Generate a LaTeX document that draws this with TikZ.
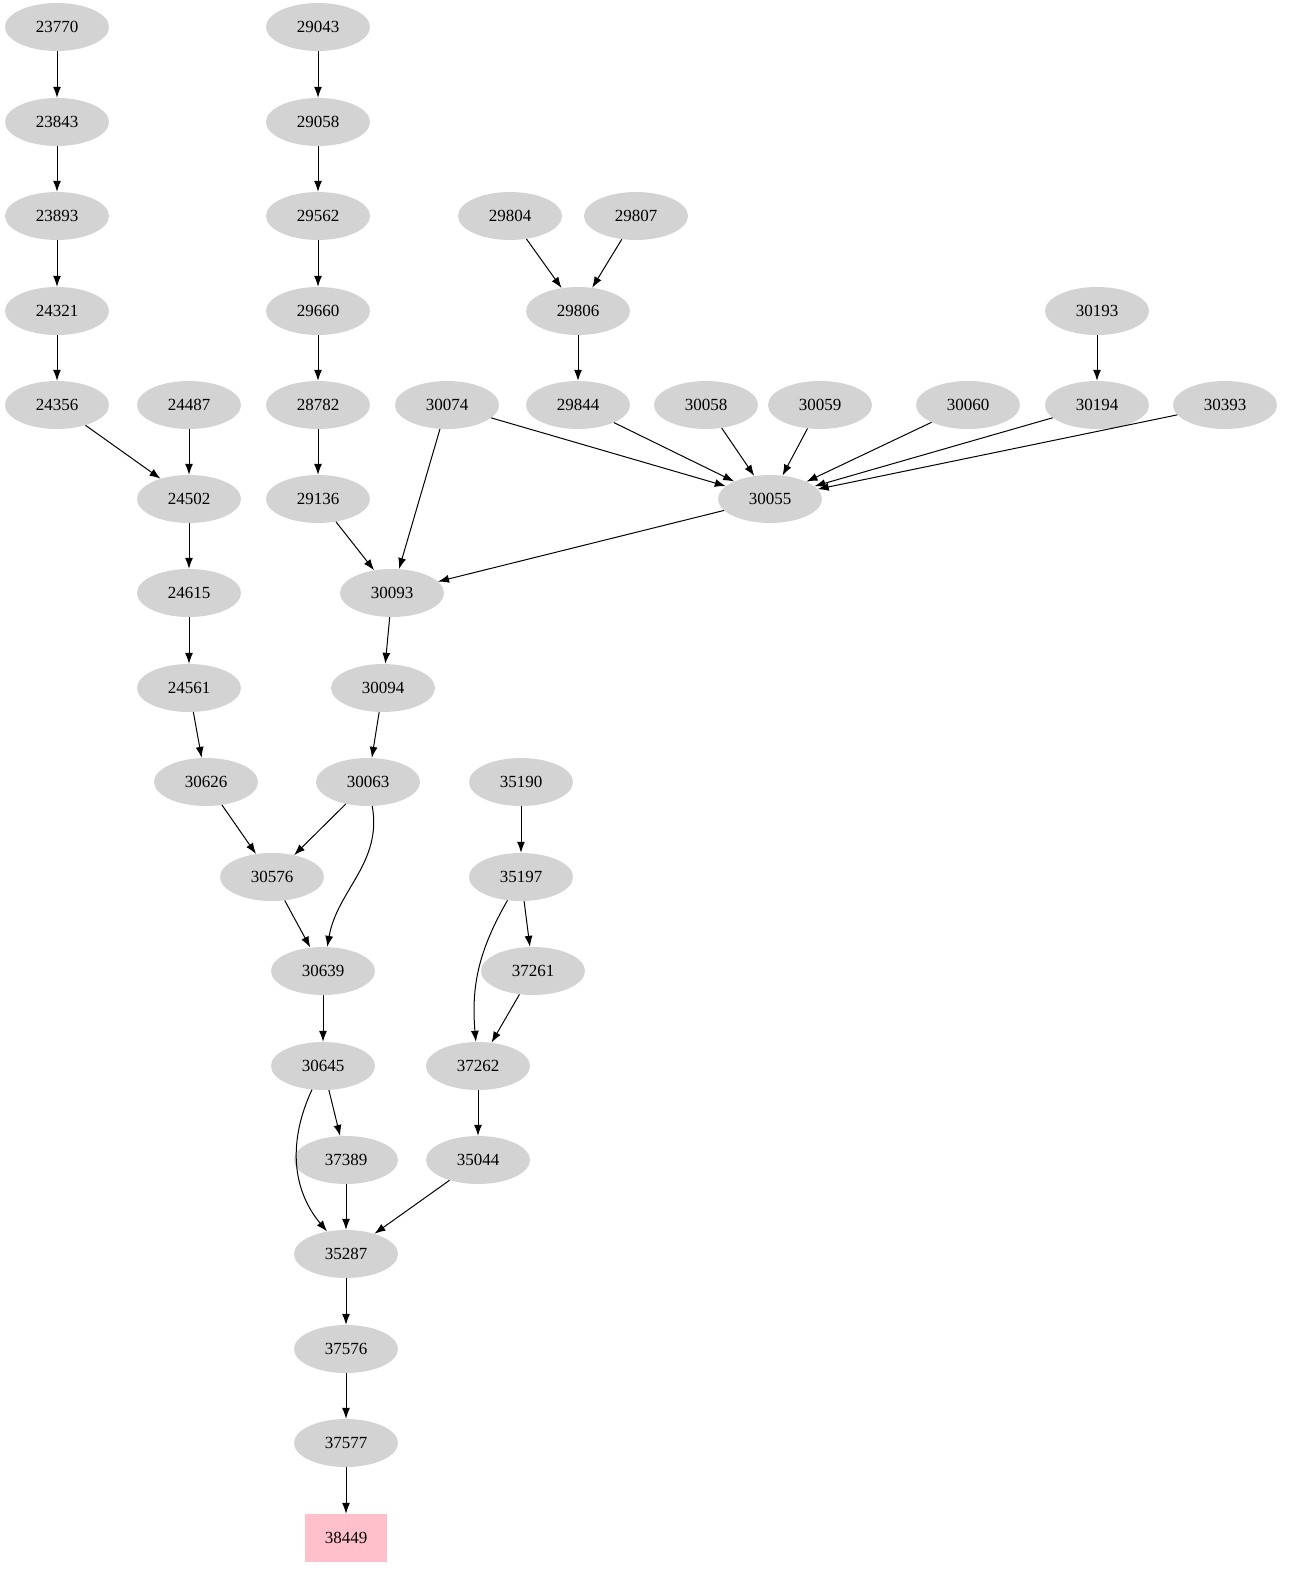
\documentclass[tikz,border=0pt]{standalone}
\usepackage{fontspec}
\setmainfont{Liberation Serif}
\usetikzlibrary{shapes.geometric,arrows.meta}
\definecolor{ng}{RGB}{211,211,211}
\definecolor{pk}{RGB}{255,192,203}
\begin{document}
\begin{tikzpicture}[x=1pt,y=-1pt,
 nd/.style={ellipse,fill=ng,minimum width=104pt,minimum height=48pt,inner sep=0pt,font=\fontsize{17}{17}\selectfont},
 bx/.style={rectangle,fill=pk,minimum width=82pt,minimum height=48pt,inner sep=0pt,font=\fontsize{17}{17}\selectfont},
 ar/.style={-{Latex[length=11pt,width=8pt]},line width=1pt}]
\useasboundingbox (0,0) rectangle (1306,1595);
\foreach \n/\x/\y in {23770/57/27,23843/57/122,23893/57/216,24321/57/311,24356/57/405,
24487/189/405,24502/189/499,24615/189/593,24561/189/688,30626/206/782,
29043/318/27,29058/318/122,29562/318/216,29660/318/311,28782/318/405,29136/318/499,
29804/510/216,29807/636/216,29806/578/311,29844/578/405,
30074/447/405,30058/706/405,30059/820/405,30060/968/405,30193/1097/311,30194/1097/405,30393/1225/405,
30055/770/499,30093/392/593,30094/383/688,30063/368/782,30576/272/877,30639/323/971,30645/323/1066,
35190/521/782,35197/521/877,37261/533/971,37262/478/1066,35044/478/1160,37389/346/1160,35287/346/1254,37576/346/1349,37577/346/1443}
 \node[nd] (n\n) at (\x,\y) {\n};
\node[bx] (n38449) at (346,1538) {38449};
\foreach \a/\b in {23770/23843,23843/23893,23893/24321,24321/24356,24356/24502,24487/24502,24502/24615,24615/24561,24561/30626,
29043/29058,29058/29562,29562/29660,29660/28782,28782/29136,29136/30093,
29804/29806,29807/29806,29806/29844,29844/30055,30074/30055,30074/30093,30058/30055,30059/30055,30060/30055,30193/30194,30194/30055,30393/30055,
30055/30093,30093/30094,30094/30063,30063/30576,30626/30576,30576/30639,30639/30645,30645/37389,
35190/35197,35197/37261,37261/37262,37262/35044,35044/35287,37389/35287,35287/37576,37576/37577,37577/38449}
 \draw[ar] (n\a) -- (n\b);
\draw[ar] (n30063) to[out=-80,in=80] (n30639);
\draw[ar] (n35197) to[out=-120,in=95] (n37262);
\draw[ar] (n30645) to[out=-115,in=130] (n35287);
\end{tikzpicture}
\end{document}
